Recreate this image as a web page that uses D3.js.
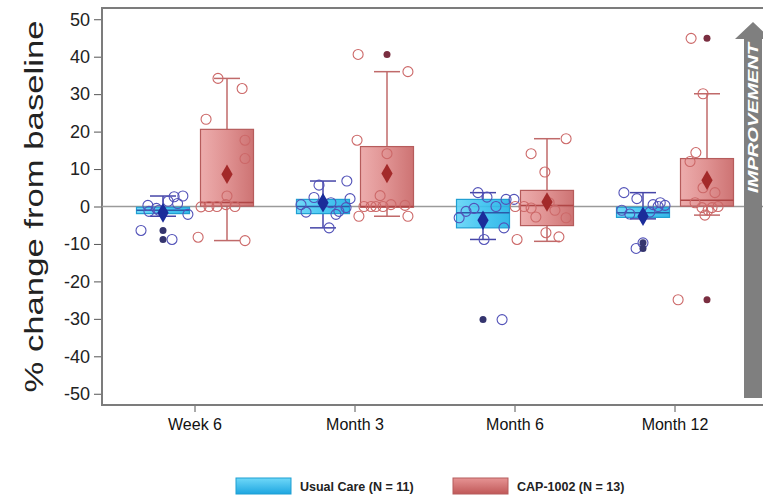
<!DOCTYPE html>
<html>
<head>
<meta charset="utf-8">
<script src="https://cdn.jsdelivr.net/npm/d3@7"></script>
<style>
  body { margin: 0; background: #fff; }
  svg { display: block; }
</style>
</head>
<body>
<svg id="chart" width="763" height="500"></svg>
<script>
const timepoints = ['Week 6', 'Month 3', 'Month 6', 'Month 12'];
const groupNames = ['Usual Care (N = 11)', 'CAP-1002 (N = 13)'];
const yTicks = [50, 40, 30, 20, 10, 0, -10, -20, -30, -40, -50];

// usual care box stats per timepoint
const ucQ1 = [-1.9, -1.9, -5.7, -2.9];
const ucMedian = [-1.0, 0.0, -1.7, -1.7];
const ucQ3 = [-0.2, 1.9, 1.9, -0.2];
const ucLow = [-2.6, -5.7, -8.8, -3.3];
const ucHigh = [2.8, 6.8, 3.7, 3.7];
const ucMean = [-1.7, 1.0, -3.7, -2.6];
// [value, jitter]
const ucPoints = [
    [[0.3, -0.57], [2.6, 0.42], [2.8, 0.75], [1.4, 0.19], [-1.3, -0.53], [-2.1, 0.94],
     [-6.4, -0.83], [-8.8, 0.34], [-1.0, -0.15], [-0.5, -0.25], [0.8, 0.55]],
    [[5.7, -0.15], [6.8, 0.9], [2.4, -0.34], [2.1, 1.02], [-2.1, 0.49], [-1.3, 0.6],
     [-5.7, 0.23], [-0.3, 0.87], [0.5, -0.83], [1.0, 0.3], [-1.5, -0.64]],
    [[3.7, -0.19], [1.9, 0.87], [1.9, 1.17], [0.0, 0.49], [-1.3, -0.64], [-5.7, 0.79],
     [-8.8, 0.04], [-30.2, 0.72], [2.5, 0.15], [-0.5, -0.34], [-3.0, -0.9]],
    [[3.7, -0.72], [2.1, -0.23], [0.5, 0.38], [0.3, 0.83], [-11.2, -0.26], [-9.7, 0.0],
     [-1.0, -0.8], [-1.5, 0.26], [0.0, 0.57], [-2.0, -0.5], [1.0, 0.65]]
];

// CAP-1002 box stats per timepoint
const capQ1 = [0.1, -0.2, -5.1, 0.1];
const capMedian = [1.1, 0.0, 0.3, 1.7];
const capQ3 = [20.6, 16.0, 4.3, 12.8];
const capLow = [-9.1, -2.6, -9.3, -2.3];
const capHigh = [34.2, 36.0, 18.1, 30.1];
const capMean = [8.6, 8.8, 1.2, 7.0];
const capPoints = [
    [[34.2, -0.34], [31.5, 0.57], [23.3, -0.79], [17.7, 0.68], [12.8, 0.68], [2.8, 0.0],
     [-0.1, -0.98], [0.0, -0.68], [0.0, -0.38], [0.0, 0.3], [-8.2, -1.09], [-9.1, 0.68], [0.5, -0.04]],
    [[40.6, -1.09], [36.0, 0.79], [17.7, -1.13], [14.1, 0.0], [2.9, -0.26], [0.0, -0.87],
     [0.0, -0.6], [0.0, -0.42], [0.0, -0.15], [0.3, 0.68], [-2.6, -1.06], [-2.6, 0.79], [0.5, 0.15]],
    [[18.1, 0.72], [14.1, -0.6], [9.2, -0.08], [-0.4, -0.6], [-2.8, -0.42], [-3.0, 0.72],
     [-7.0, -0.04], [-8.1, 0.45], [-8.8, -1.13], [0.0, -0.87], [1.0, 0.08], [0.0, -1.2], [-1.0, 0.3]],
    [[44.9, -0.6], [30.1, -0.15], [14.4, -0.42], [12.0, -0.64], [5.0, -0.15], [3.7, 0.3],
     [-0.3, -0.19], [-2.3, -0.08], [-0.3, 0.19], [-24.9, -1.09], [1.0, -0.45], [0.0, 0.42], [-1.0, 0.04]]
];

const groups = [
    {name: groupNames[0], q1: ucQ1, median: ucMedian, q3: ucQ3, low: ucLow, high: ucHigh, mean: ucMean, points: ucPoints,
     grad: 'gradUC', stroke: '#1f9fd2', medianColor: '#2c5aa8', whisker: '#4646a8', circle: '#5252b8',
     meanColor: '#1b2c9a', outlier: '#34346e', swatch: 'gradUCLegend'},
    {name: groupNames[1], q1: capQ1, median: capMedian, q3: capQ3, low: capLow, high: capHigh, mean: capMean, points: capPoints,
     grad: 'gradCAP', stroke: '#b65c5c', medianColor: '#b04646', whisker: '#c06a6a', circle: '#cc6868',
     meanColor: '#a32a2a', outlier: '#7a2e40', swatch: 'gradCAPLegend'}
];

const svg = d3.select('#chart');
const plotLeft = 102, plotTop = 8, plotBottom = 405;

const defs = svg.append('defs');
function addGradient(id, stops, x2, y2) {
    let g = defs.append('linearGradient').attr('id', id)
        .attr('x1', 0).attr('y1', 0).attr('x2', x2).attr('y2', y2);
    stops.forEach(function (s) {
        g.append('stop').attr('offset', s[0]).attr('stop-color', s[1]);
    });
}
addGradient('gradUC', [[0, '#62d4f7'], [0.5, '#38c2f0'], [1, '#1fb0e6']], 1, 0);
addGradient('gradCAP', [[0, '#eba4a4'], [0.5, '#dc8686'], [1, '#c86464']], 1, 0);
addGradient('gradUCLegend', [[0, '#6fd8f8'], [1, '#1ea6e0']], 0, 1);
addGradient('gradCAPLegend', [[0, '#e69494'], [1, '#c05858']], 0, 1);

const y = d3.scaleLinear().domain([-53, 53]).range([plotBottom, plotTop]);
const x = d3.scaleBand().domain(timepoints).range([115, 755]);
const offset = d3.scalePoint().domain(groupNames).range([-32, 32]);
const boxW = 53;
const capW = 26;

// y axis
const yAxis = svg.append('g')
    .attr('transform', 'translate(' + plotLeft + ',0)')
    .call(d3.axisLeft(y).tickValues(yTicks).tickSize(8).tickPadding(4)
        .tickFormat(function (d) { return String(d); }));
yAxis.select('.domain').remove();
yAxis.selectAll('line').attr('stroke', '#555');
yAxis.selectAll('text')
    .attr('font-family', '"Liberation Sans Narrow", "Arial Narrow", sans-serif')
    .attr('font-size', 18)
    .attr('fill', '#222');

// x axis
const xAxis = svg.append('g')
    .attr('transform', 'translate(0,' + plotBottom + ')')
    .call(d3.axisBottom(x).tickSize(7).tickPadding(7));
xAxis.select('.domain').remove();
xAxis.selectAll('line').attr('stroke', '#555');
xAxis.selectAll('text')
    .attr('font-family', 'Arial, "Liberation Sans", sans-serif')
    .attr('font-size', 16)
    .attr('fill', '#111');

// frame
svg.append('rect')
    .attr('x', plotLeft)
    .attr('y', plotTop)
    .attr('width', 700)
    .attr('height', plotBottom - plotTop)
    .attr('fill', 'none')
    .attr('stroke', '#7c7c7c')
    .attr('stroke-width', 2);

// zero reference line
svg.append('line')
    .attr('x1', plotLeft).attr('x2', 763)
    .attr('y1', y(0)).attr('y2', y(0))
    .attr('stroke', '#9a9a9a')
    .attr('stroke-width', 1.5);

// improvement arrow
const arrowX = 744, arrowW = 18, arrowTip = 22, arrowBase = 39, arrowEnd = 398;
svg.append('path')
    .attr('d', 'M' + arrowX + ',' + arrowEnd +
        'V' + arrowBase + 'H' + (arrowX - 9) +
        'L' + (arrowX + arrowW / 2) + ',' + arrowTip +
        'L' + (arrowX + arrowW + 9) + ',' + arrowBase +
        'H' + (arrowX + arrowW) + 'V' + arrowEnd + 'Z')
    .attr('fill', '#7f7f7f');
svg.append('text')
    .text('IMPROVEMENT')
    .attr('transform', 'translate(' + (arrowX + arrowW / 2 + 5) + ',' + 43 + ') rotate(-90)')
    .attr('text-anchor', 'end')
    .attr('font-family', 'Arial, "Liberation Sans", sans-serif')
    .attr('font-size', 14)
    .attr('font-style', 'italic')
    .attr('font-weight', 'bold')
    .attr('textLength', 150)
    .attr('lengthAdjust', 'spacingAndGlyphs')
    .attr('fill', '#fff');

// boxes
groups.forEach(function (grp) {
    timepoints.forEach(function (tp, i) {
        let cx = x(tp) + x.bandwidth() / 2 + offset(grp.name);
        let g = svg.append('g');

        // whiskers
        g.append('line')
            .attr('x1', cx).attr('x2', cx)
            .attr('y1', y(grp.high[i])).attr('y2', y(grp.q3[i]))
            .attr('stroke', grp.whisker).attr('stroke-width', 1.5);
        g.append('line')
            .attr('x1', cx).attr('x2', cx)
            .attr('y1', y(grp.q1[i])).attr('y2', y(grp.low[i]))
            .attr('stroke', grp.whisker).attr('stroke-width', 1.5);
        [grp.high[i], grp.low[i]].forEach(function (v) {
            g.append('line')
                .attr('x1', cx - capW / 2).attr('x2', cx + capW / 2)
                .attr('y1', y(v)).attr('y2', y(v))
                .attr('stroke', grp.whisker).attr('stroke-width', 1.5);
        });

        // box
        g.append('rect')
            .attr('x', cx - boxW / 2)
            .attr('y', y(grp.q3[i]))
            .attr('width', boxW)
            .attr('height', y(grp.q1[i]) - y(grp.q3[i]))
            .attr('fill', 'url(#' + grp.grad + ')')
            .attr('fill-opacity', 0.9)
            .attr('stroke', grp.stroke)
            .attr('stroke-width', 1.2);

        // median
        g.append('line')
            .attr('x1', cx - boxW / 2).attr('x2', cx + boxW / 2)
            .attr('y1', y(grp.median[i])).attr('y2', y(grp.median[i]))
            .attr('stroke', grp.medianColor).attr('stroke-width', 1.5);

        // individual points
        g.selectAll('circle.pt')
            .data(grp.points[i])
            .join('circle')
            .attr('class', 'pt')
            .attr('cx', function (d) { return cx + d[1] * boxW / 2; })
            .attr('cy', function (d) { return y(d[0]); })
            .attr('r', 5)
            .attr('fill', 'none')
            .attr('stroke', grp.circle)
            .attr('stroke-width', 1.1);

        // outliers
        let outliers = grp.points[i].filter(function (d) {
            return d[0] < grp.low[i] || d[0] > grp.high[i];
        });
        g.selectAll('circle.out')
            .data(outliers)
            .join('circle')
            .attr('class', 'out')
            .attr('cx', cx)
            .attr('cy', function (d) { return y(d[0]); })
            .attr('r', 3.5)
            .attr('fill', grp.outlier);

        // mean
        g.append('path')
            .attr('d', d3.symbol().type(d3.symbolDiamond).size(110)())
            .attr('transform', 'translate(' + cx + ',' + y(grp.mean[i]) + ')')
            .attr('fill', grp.meanColor);
    });
});

// y axis title
svg.append('text')
    .text('% change from baseline')
    .attr('transform', 'translate(43,' + ((plotTop + plotBottom) / 2) + ') rotate(-90)')
    .attr('text-anchor', 'middle')
    .attr('font-family', 'Arial, "Liberation Sans", sans-serif')
    .attr('font-size', 26)
    .attr('textLength', 372)
    .attr('lengthAdjust', 'spacingAndGlyphs')
    .attr('fill', '#222');

// legend
const legendX = [236, 453];
groups.forEach(function (grp, i) {
    svg.append('rect')
        .attr('x', legendX[i])
        .attr('y', 478)
        .attr('width', 55)
        .attr('height', 16)
        .attr('fill', 'url(#' + grp.swatch + ')')
        .attr('stroke', grp.stroke)
        .attr('stroke-width', 1);
    svg.append('text')
        .text(grp.name)
        .attr('x', legendX[i] + 64)
        .attr('y', 491)
        .attr('font-family', 'Arial, "Liberation Sans", sans-serif')
        .attr('font-size', 12.5)
        .attr('font-weight', 'bold')
        .attr('fill', '#222');
});
</script>
</body>
</html>
